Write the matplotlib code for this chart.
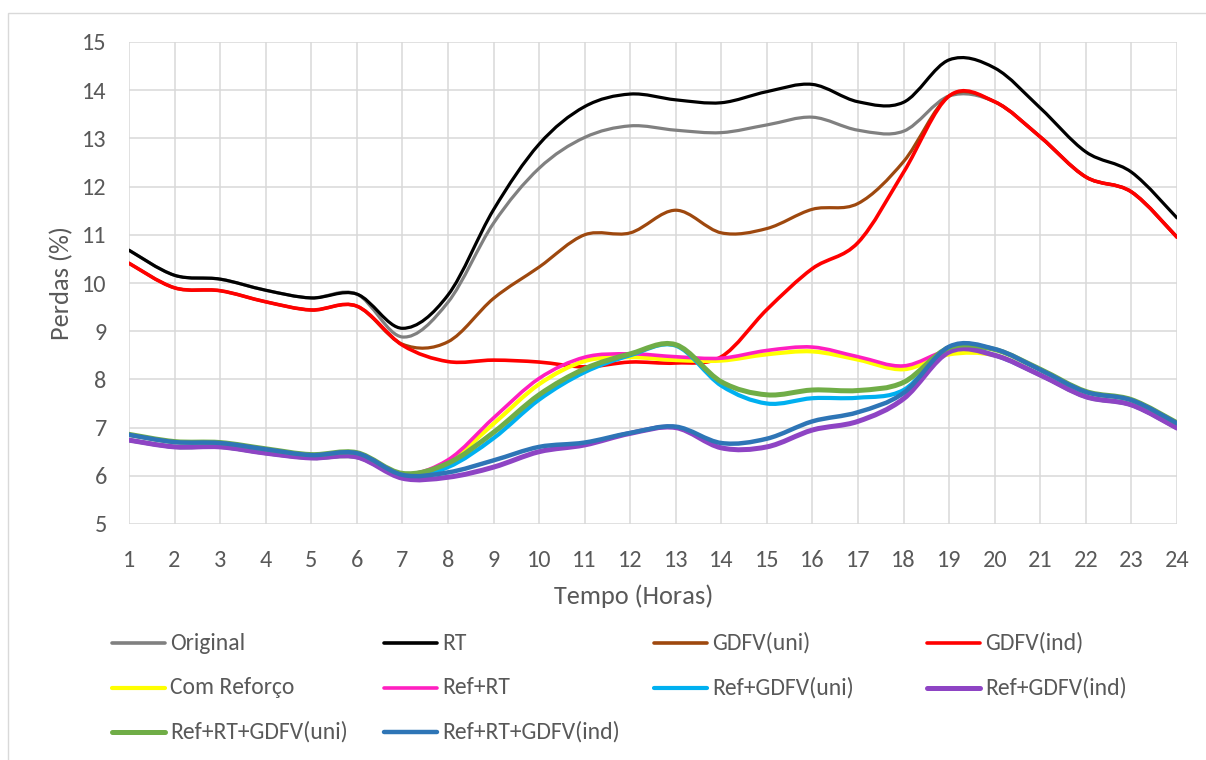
import matplotlib
matplotlib.use('Agg')

import numpy as np
import matplotlib.pyplot as plt
from matplotlib.path import Path
from matplotlib.patches import PathPatch, Rectangle
from matplotlib.lines import Line2D
from matplotlib import font_manager

# Pick a narrow sans face close to the Office default, falling back to DejaVu
installed = {f.name for f in font_manager.fontManager.ttflist}
for name in ['Carlito', 'Liberation Sans Narrow', 'Open Sans', 'Noto Sans']:
	if name in installed:
		base_font = name
		break
else:
	base_font = 'DejaVu Sans'
plt.rcParams['font.family'] = [base_font, 'DejaVu Sans']

TXT = '#595959'
GRID = '#D9D9D9'

horas = list(range(1, 25))

original = [10.68, 10.16, 10.08, 9.85, 9.69, 9.77, 8.88, 9.60, 11.24, 12.38, 13.02, 13.26,
            13.17, 13.12, 13.28, 13.44, 13.17, 13.15, 13.88, 13.76, 13.03, 12.20, 11.89, 10.95]
rt = [10.68, 10.16, 10.08, 9.85, 9.69, 9.77, 9.06, 9.75, 11.52, 12.88, 13.66, 13.92,
      13.80, 13.74, 13.97, 14.12, 13.76, 13.75, 14.63, 14.46, 13.63, 12.72, 12.30, 11.35]
gdfv_uni = [10.41, 9.90, 9.84, 9.61, 9.44, 9.52, 8.73, 8.78, 9.68, 10.33, 11.00, 11.04,
            11.51, 11.04, 11.13, 11.53, 11.65, 12.52, 13.88, 13.76, 13.03, 12.20, 11.89, 10.95]
gdfv_ind = [10.41, 9.90, 9.84, 9.61, 9.44, 9.52, 8.71, 8.37, 8.40, 8.36, 8.26, 8.36,
            8.34, 8.47, 9.45, 10.30, 10.84, 12.30, 13.88, 13.76, 13.03, 12.20, 11.89, 10.95]
com_reforco = [6.74, 6.60, 6.60, 6.47, 6.37, 6.39, 6.00, 6.28, 7.08, 7.90, 8.38, 8.46,
               8.40, 8.39, 8.52, 8.58, 8.41, 8.21, 8.52, 8.50, 8.09, 7.64, 7.47, 6.99]
ref_rt = [6.85, 6.70, 6.68, 6.55, 6.43, 6.47, 6.04, 6.33, 7.20, 8.02, 8.46, 8.53,
          8.47, 8.44, 8.60, 8.67, 8.47, 8.28, 8.61, 8.62, 8.20, 7.74, 7.57, 7.09]
ref_gdfv_uni = [6.74, 6.60, 6.60, 6.47, 6.37, 6.39, 5.99, 6.18, 6.78, 7.58, 8.15, 8.50,
                8.70, 7.87, 7.50, 7.61, 7.62, 7.78, 8.64, 8.50, 8.09, 7.64, 7.47, 6.99]
ref_gdfv_ind = [6.74, 6.60, 6.60, 6.47, 6.37, 6.39, 5.95, 5.97, 6.18, 6.50, 6.64, 6.88,
                7.00, 6.58, 6.60, 6.95, 7.13, 7.60, 8.57, 8.50, 8.09, 7.64, 7.47, 6.99]
ref_rt_gdfv_uni = [6.86, 6.71, 6.69, 6.56, 6.44, 6.48, 6.05, 6.26, 6.90, 7.68, 8.22, 8.53,
                   8.72, 7.95, 7.68, 7.78, 7.77, 7.94, 8.66, 8.62, 8.21, 7.75, 7.58, 7.10]
ref_rt_gdfv_ind = [6.85, 6.70, 6.68, 6.55, 6.43, 6.47, 6.02, 6.07, 6.32, 6.60, 6.69, 6.89,
                   7.02, 6.68, 6.77, 7.13, 7.32, 7.72, 8.68, 8.63, 8.20, 7.74, 7.57, 7.09]

series = [
	('Original', original, '#808080', 2.3),
	('RT', rt, '#000000', 2.3),
	('GDFV(uni)', gdfv_uni, '#9E480E', 2.3),
	('GDFV(ind)', gdfv_ind, '#FF0000', 2.6),
	('Com Reforço', com_reforco, '#FFFF00', 3.0),
	('Ref+RT', ref_rt, '#FF1FC0', 2.6),
	('Ref+GDFV(uni)', ref_gdfv_uni, '#00B0F0', 3.0),
	('Ref+GDFV(ind)', ref_gdfv_ind, '#8E44C4', 3.6),
	('Ref+RT+GDFV(uni)', ref_rt_gdfv_uni, '#70AD47', 3.6),
	('Ref+RT+GDFV(ind)', ref_rt_gdfv_ind, '#2E75B6', 3.2),
]


def smooth_path(x, y):
	# Cardinal-spline style cubic Bezier through every point (like a "smoothed line")
	x = np.asarray(x, float)
	y = np.asarray(y, float)
	n = len(x)
	verts = [(x[0], y[0])]
	codes = [Path.MOVETO]
	for i in range(n - 1):
		p0 = i - 1 if i > 0 else 0
		p3 = i + 2 if i + 2 < n else n - 1
		c1 = (x[i] + (x[i + 1] - x[p0]) / 6.0, y[i] + (y[i + 1] - y[p0]) / 6.0)
		c2 = (x[i + 1] - (x[p3] - x[i]) / 6.0, y[i + 1] - (y[p3] - y[i]) / 6.0)
		verts += [c1, c2, (x[i + 1], y[i + 1])]
		codes += [Path.CURVE4, Path.CURVE4, Path.CURVE4]
	return Path(verts, codes)


W, H = 1206, 760
fig = plt.figure(figsize=(W / 100.0, H / 100.0), dpi=100)
ax = fig.add_axes([129 / W, 1 - 524 / H, (1177 - 129) / W, (524 - 42) / H])

for label, vals, color, lw in series:
	ax.add_patch(PathPatch(smooth_path(horas, vals), facecolor='none', edgecolor=color,
	                       lw=lw, capstyle='round', joinstyle='round', zorder=3))

ax.set_xlim(1, 24)
ax.set_ylim(5, 15)
ax.set_xticks(horas)
ax.set_yticks(range(5, 16))
ax.grid(True, color=GRID, lw=1.1, zorder=0)
for s in ax.spines.values():
	s.set_visible(False)
ax.tick_params(length=0, labelsize=17.5, colors=TXT)
ax.tick_params(axis='x', pad=19)
ax.tick_params(axis='y', pad=16)
ax.set_xlabel('Tempo (Horas)', fontsize=19, color=TXT)
ax.set_ylabel('Perdas (%)', fontsize=19, color=TXT)
# Axis titles placed in pixel terms relative to the plot area
ax.xaxis.set_label_coords((634 - 129) / (1177 - 129), -(596 - 524) / (524 - 42))
ax.yaxis.set_label_coords(-(129 - 62) / (1177 - 129), 0.5)
ax.xaxis.label.set_va('center')
ax.yaxis.label.set_va('center')

# Legend laid out in four fixed-width columns under the plot
col_x = [112, 384, 654, 927]
row_y = [643, 688, 732]
for k, (label, vals, color, lw) in enumerate(series):
	cx = col_x[k % 4]
	cy = row_y[k // 4]
	fig.add_artist(Line2D([cx / W, (cx + 53) / W], [1 - cy / H, 1 - cy / H],
	                      color=color, lw=max(lw, 2.6), solid_capstyle='round',
	                      transform=fig.transFigure))
	fig.text((cx + 58) / W, 1 - cy / H, label, fontsize=17, color=TXT,
	         ha='left', va='center')

# Chart area border
fig.add_artist(Rectangle((8 / W, -0.02), 1.02, 1 - 13 / H + 0.02, fill=False,
                         edgecolor=GRID, lw=1.0, transform=fig.transFigure))

fig.savefig('out.png', dpi=100)
